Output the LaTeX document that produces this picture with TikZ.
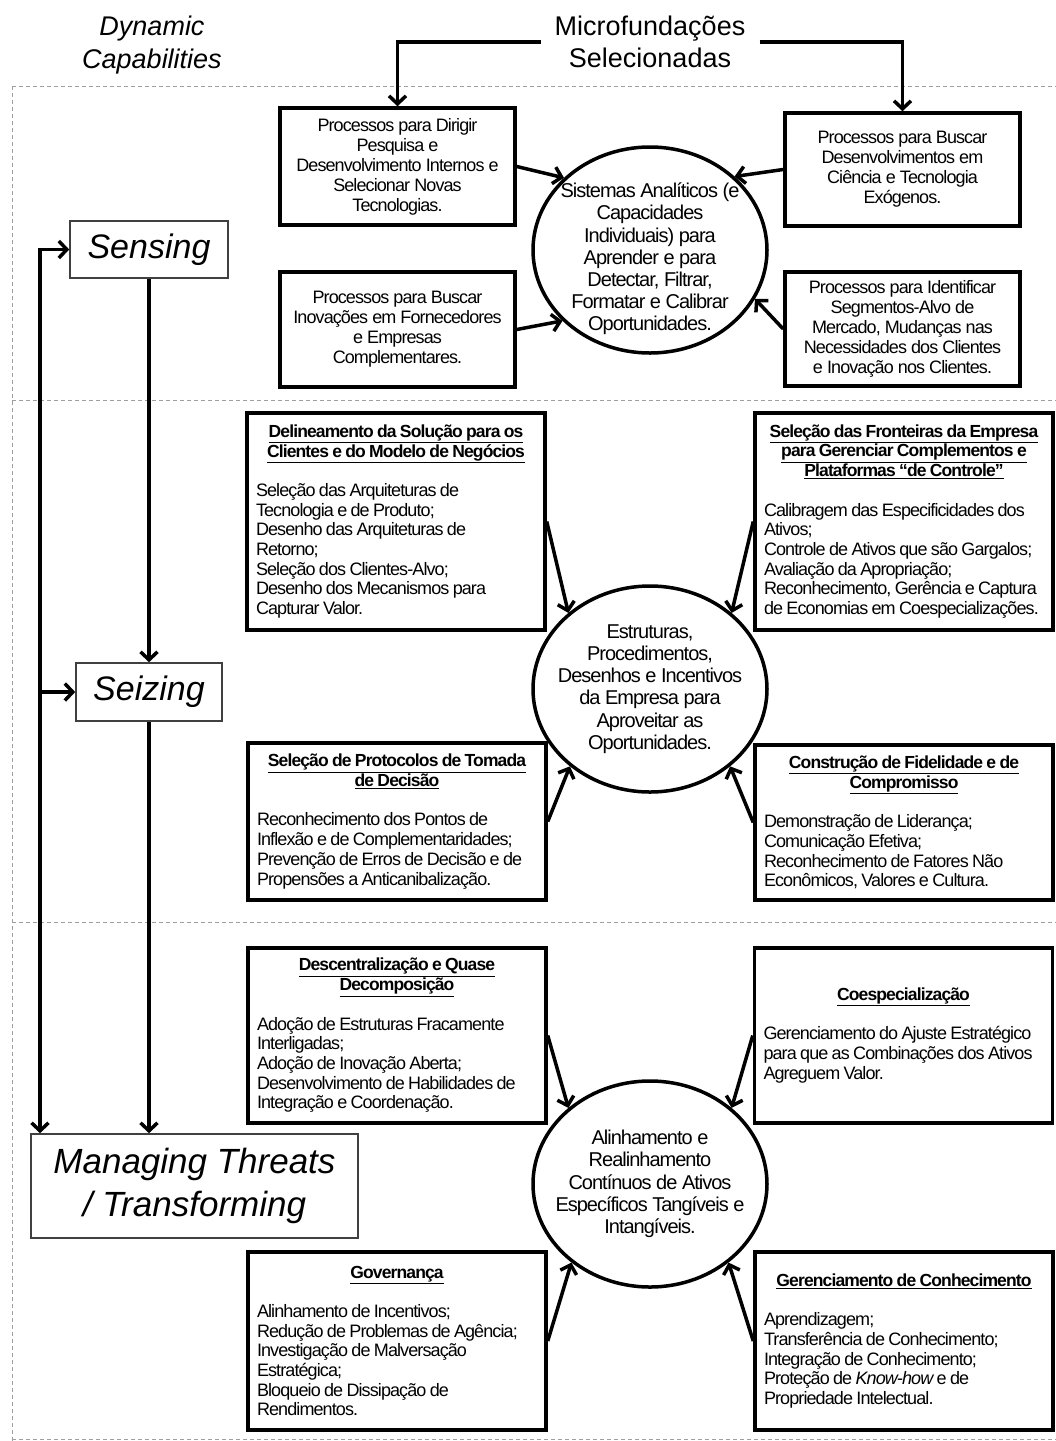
\documentclass[tikz,border=0pt]{standalone}
\usepackage{fontspec}
\setmainfont{Liberation Sans}
\newfontfamily\lsf[LetterSpace=-5]{Liberation Sans}
\usetikzlibrary{arrows.meta,shapes.geometric,calc}
\lineskiplimit=-30pt
\newcommand{\bodyf}{\lsf\fontsize{18}{19.7}\selectfont}
\newcommand{\titf}{\lsf\fontsize{17.5}{19.7}\selectfont\bfseries}
\newcommand{\myul}[1]{\underline{#1}}
\newcommand{\btext}[2]{{\centering\titf #1\par}\vspace{19.7pt}{\raggedright\bodyf #2\par}}
\begin{document}
\begin{tikzpicture}[x=1pt,y=-1pt,
  mbox/.style={draw, line width=3.5pt, inner sep=0pt},
  sbox/.style={mbox, minimum width=235pt, align=center, font=\lsf\fontsize{18}{20}\selectfont},
  wbox/.style={mbox, text width=280pt, minimum width=298pt, align=left},
  circ/.style={ellipse, draw, line width=3.5pt, inner sep=0pt, minimum width=234pt, minimum height=206pt},
  ctext/.style={align=center, inner sep=0pt, font=\lsf\fontsize{20}{22.2}\selectfont},
  capbox/.style={draw=black!75, line width=1.6pt, inner sep=0pt, font=\fontsize{34}{43}\selectfont\itshape},
  arr/.style={line width=3.5pt, -{Straight Barb[length=8pt,width=17pt]}},
  arrb/.style={line width=3.5pt, {Straight Barb[length=8pt,width=17pt]}-{Straight Barb[length=8pt,width=17pt]}},
  dline/.style={draw=gray!75, line width=1pt, dash pattern=on 4pt off 3pt}
]
\useasboundingbox (0,0) rectangle (1056,1441);
\fill[white] (0,0) rectangle (1056,1441);

% dashed frame
\draw[dline] (12,86) -- (1056,86);
\draw[dline] (12,86) -- (12,1441);
\draw[dline] (12,400) -- (1056,400);
\draw[dline] (12,922) -- (1056,922);
\draw[dline] (12,1439) -- (1056,1439);

% headings
\node[align=center, font=\fontsize{27}{33}\selectfont\itshape] (dc) at (152,45) {Dynamic\\Capabilities};
\node[align=center, inner sep=14pt, font=\fontsize{27}{32}\selectfont] (mf) at (650,42) {Microfundações\\Selecionadas};

% section 1
\node[sbox, minimum height=117pt] (bA) at (397.5,166.5) {Processos para Dirigir\\Pesquisa e\\Desenvolvimento Internos e\\Selecionar Novas\\Tecnologias.};
\node[sbox, minimum height=113pt] (bB) at (902.5,169.5) {Processos para Buscar\\Desenvolvimentos em\\Ciência e Tecnologia\\Exógenos.};
\node[sbox, minimum height=115pt] (bC) at (397.5,329.5) {Processos para Buscar\\Inovações em Fornecedores\\e Empresas\\Complementares.};
\node[sbox, minimum height=114pt] (bD) at (902.5,329) {Processos para Identificar\\Segmentos-Alvo de\\Mercado, Mudanças nas\\Necessidades dos Clientes\\e Inovação nos Clientes.};
\node[circ] (c1) at (650,250) {};
\node[ctext] (c1t) at ($(c1.center)+(0,9)$) {Sistemas Analíticos (e\\Capacidades\\Individuais) para\\Aprender e para\\Detectar, Filtrar,\\Formatar e Calibrar\\Oportunidades.};

\draw[arr] (mf.west) -| (bA.north);
\draw[arr] (mf.east) -| (bB.north);
\draw[arr] (bA.east) -- (c1.140);
\draw[arr] (bB.west) -- (c1.41);
\draw[arr] (bC.east) -- (c1.219);
\draw[arr] (bD.west) -- (c1.335);

% section 2
\node[wbox, minimum height=217pt] (bE) at (396,521.5) {\btext{\myul{Delineamento da Solução para os}\\\myul{Clientes e do Modelo de Negócios}}{Seleção das Arquiteturas de\\Tecnologia e de Produto;\\Desenho das Arquiteturas de\\Retorno;\\Seleção dos Clientes-Alvo;\\Desenho dos Mecanismos para\\Capturar Valor.}};
\node[wbox, minimum height=217pt] (bF) at (904,521.5) {\btext{\myul{Seleção das Fronteiras da Empresa}\\\myul{para Gerenciar Complementos e}\\\myul{Plataformas “de Controle”}}{Calibragem das Especificidades dos\\Ativos;\\Controle de Ativos que são Gargalos;\\Avaliação da Apropriação;\\Reconhecimento, Gerência e Captura\\de Economias em Coespecializações.}};
\node[circ] (c2) at (650,689) {};
\node[ctext] (c2t) at (c2.center) {Estruturas,\\Procedimentos,\\Desenhos e Incentivos\\da Empresa para\\Aproveitar as\\Oportunidades.};
\node[wbox, minimum height=157pt] (bG) at (397,821.5) {\btext{\myul{Seleção de Protocolos de Tomada}\\\myul{de Decisão}}{Reconhecimento dos Pontos de\\Inflexão e de Complementaridades;\\Prevenção de Erros de Decisão e de\\Propensões a Anticanibalização.}};
\node[wbox, minimum height=155pt] (bH) at (904,822.5) {\btext{\myul{Construção de Fidelidade e de}\\\myul{Compromisso}}{Demonstração de Liderança;\\Comunicação Efetiva;\\Reconhecimento de Fatores Não\\Econômicos, Valores e Cultura.}};

\draw[arr] (bE.east) -- (c2.137);
\draw[arr] (bF.west) -- (c2.43);
\draw[arr] (bG.east) -- (c2.224);
\draw[arr] (bH.west) -- (c2.316);

% section 3
\node[wbox, minimum height=175pt] (bI) at (397,1035.5) {\btext{\myul{Descentralização e Quase}\\\myul{Decomposição}}{Adoção de Estruturas Fracamente\\Interligadas;\\Adoção de Inovação Aberta;\\Desenvolvimento de Habilidades de\\Integração e Coordenação.}};
\node[wbox, minimum height=175pt] (bJ) at (903.5,1035.5) {\btext{\myul{Coespecialização}}{Gerenciamento do Ajuste Estratégico\\para que as Combinações dos Ativos\\Agreguem Valor.}};
\node[circ] (c3) at (650,1184) {};
\node[ctext] (c3t) at (c3.center) {Alinhamento e\\Realinhamento\\Contínuos de Ativos\\Específicos Tangíveis e\\Intangíveis.};
\node[wbox, minimum height=178pt] (bK) at (397,1341) {\btext{\myul{Governança}}{Alinhamento de Incentivos;\\Redução de Problemas de Agência;\\Investigação de Malversação\\Estratégica;\\Bloqueio de Dissipação de\\Rendimentos.}};
\node[wbox, minimum height=178pt] (bL) at (904,1341) {\btext{\myul{Gerenciamento de Conhecimento}}{Aprendizagem;\\Transferência de Conhecimento;\\Integração de Conhecimento;\\Proteção de \textit{Know-how} e de\\Propriedade Intelectual.}};

\draw[arr] (bI.east) -- (c3.137);
\draw[arr] (bJ.west) -- (c3.43);
\draw[arr] (bK.east) -- (c3.225);
\draw[arr] (bL.west) -- (c3.315);

% left column
\node[capbox, minimum width=158pt, minimum height=57pt] (sens) at (149,249.5) {Sensing};
\node[capbox, minimum width=146pt, minimum height=58pt] (seiz) at (149,692) {Seizing};
\node[capbox, minimum width=327pt, minimum height=104pt, align=center, font=\fontsize{35}{43}\selectfont\itshape] (mt) at (194.5,1186) {Managing Threats\\/ Transforming};
\coordinate (sp1) at (40,249.5);

\draw[arrb] (sens.west) -- (sp1) -- (sp1 |- mt.north);
\draw[arr] (sp1 |- seiz.west) -- (seiz.west);
\draw[arr] (sens.south) -- (seiz.north);
\draw[arr] (seiz.south) -- (seiz.south |- mt.north);
\end{tikzpicture}
\end{document}
